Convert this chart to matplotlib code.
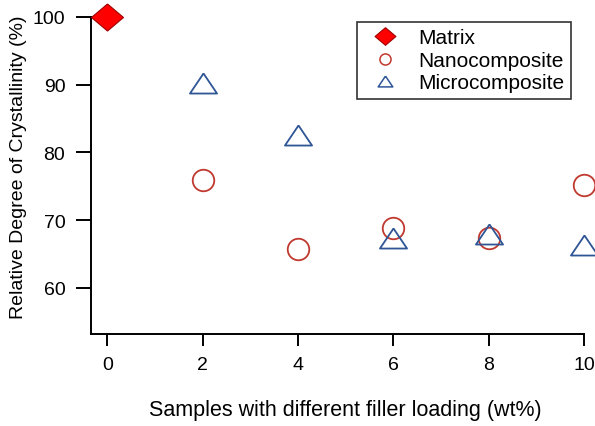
import matplotlib
matplotlib.use("Agg")
import matplotlib.pyplot as plt
from matplotlib.lines import Line2D

plt.rcParams['font.family'] = ['Liberation Sans', 'DejaVu Sans']

# Filler loading (wt%) and relative degree of crystallinity (%)
matrix_x = [0]
matrix_y = [100.0]
nano_x = [2, 4, 6, 8, 10]
nano_y = [76.0, 65.8, 68.9, 67.4, 75.2]
micro_x = [2, 4, 6, 8, 10]
micro_y = [90.3, 82.6, 67.4, 67.9, 66.3]
xticks = [0, 2, 4, 6, 8, 10]
yticks = [60, 70, 80, 90, 100]

diamond = [(0, 1), (1.18, 0), (0, -1), (-1.18, 0), (0, 1)]
triangle = [(0, 1), (-1.35, -1), (1.35, -1), (0, 1)]

red_edge = '#c0392f'
blue_edge = '#2f5596'
matrix_style = dict(marker=diamond, markerfacecolor='#ff0000',
                    markeredgecolor='#a00000', markeredgewidth=0.8)
nano_style = dict(marker='o', markerfacecolor='none',
                  markeredgecolor=red_edge, markeredgewidth=1.3)
micro_style = dict(marker=triangle, markerfacecolor='none',
                   markeredgecolor=blue_edge, markeredgewidth=1.3)

fig = plt.figure(figsize=(5.95, 4.27), dpi=100)
ax = fig.add_axes([91 / 595, 92 / 427, 493 / 595, 317 / 427])

ax.plot(nano_x, nano_y, linestyle='none', markersize=15.5, clip_on=False,
        zorder=3, **nano_style)
ax.plot(micro_x, micro_y, linestyle='none', markersize=19.5, clip_on=False,
        zorder=3, **micro_style)
ax.plot(matrix_x, matrix_y, linestyle='none', markersize=23, clip_on=False,
        zorder=4, **matrix_style)

ax.set_xlim(-0.34, 10)
ax.set_ylim(53.2, 100)
ax.set_xticks(xticks)
ax.set_yticks(yticks)
ax.set_xticklabels([str(v) for v in xticks])
ax.set_yticklabels([str(v) for v in yticks])

for s in ['top', 'right']:
    ax.spines[s].set_visible(False)
for s in ['left', 'bottom']:
    ax.spines[s].set_linewidth(1.4)
ax.tick_params(axis='y', direction='out', length=10.5, width=1.4, pad=8,
               labelsize=14)
ax.tick_params(axis='x', direction='out', length=8.5, width=1.4, pad=7,
               labelsize=14)

ax.set_xlabel('Samples with different filler loading (wt%)', fontsize=15.5)
ax.xaxis.label.set_va('center')
ax.xaxis.set_label_coords(0.516, -0.237)
ax.set_ylabel('Relative Degree of Crystallinity (%)', fontsize=14)
ax.yaxis.label.set_va('center')
ax.yaxis.set_label_coords(-0.148, 0.53)

handles = [
    Line2D([], [], linestyle='none', markersize=15, **matrix_style),
    Line2D([], [], linestyle='none', markersize=8, **{**nano_style, 'markeredgewidth': 1.1}),
    Line2D([], [], linestyle='none', markersize=10.5, **{**micro_style, 'markeredgewidth': 1.1}),
]
labels = ['Matrix', 'Nanocomposite', 'Microcomposite']
leg = fig.legend(handles, labels,
                 loc='upper left', bbox_to_anchor=(357 / 595, 1 - 23 / 427),
                 fontsize=15, frameon=True, fancybox=False,
                 handlelength=2.1, handletextpad=0.55, labelspacing=0.17,
                 borderpad=0.3, borderaxespad=0)
leg.get_frame().set_edgecolor('black')
leg.get_frame().set_linewidth(1.2)

fig.savefig('out.png', dpi=100)
